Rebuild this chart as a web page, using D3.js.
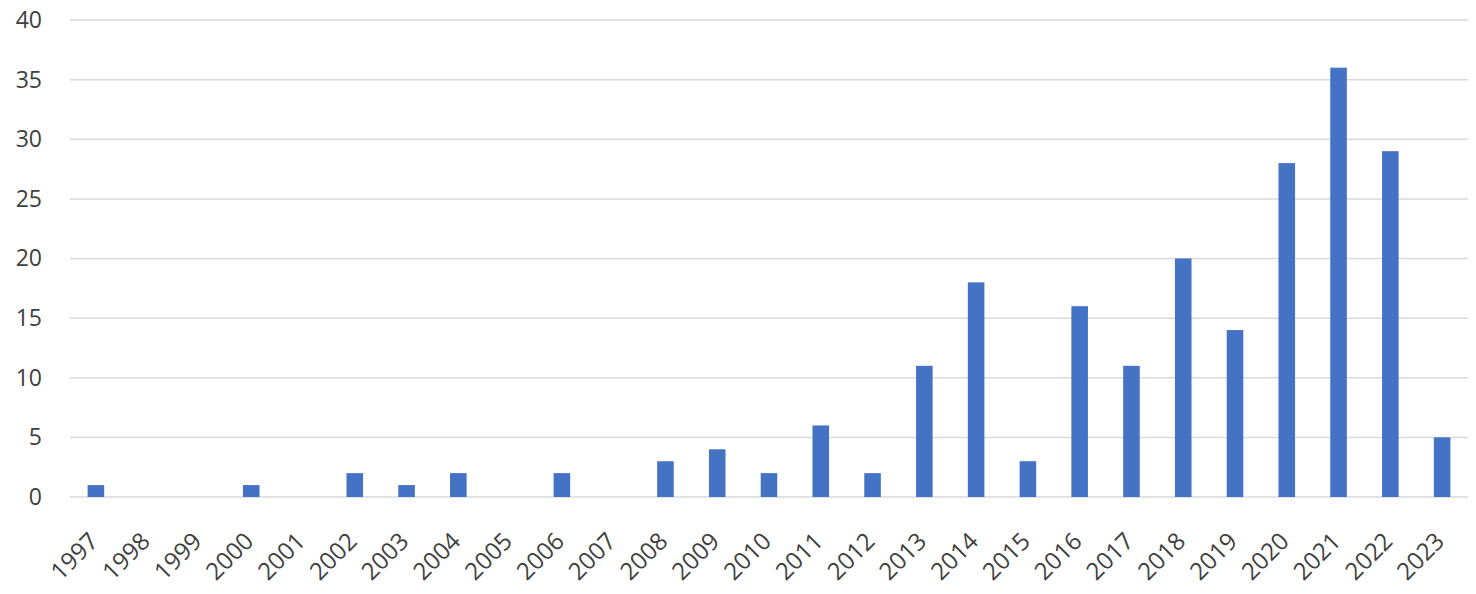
<!DOCTYPE html>
<html>
<head>
<meta charset="utf-8">
<script src="https://cdn.jsdelivr.net/npm/d3@7"></script>
<style>
  body { margin: 0; background: #fff; }
  svg { display: block; }
  text { font-family: "Open Sans", "Noto Sans", sans-serif; fill: #404040; }
</style>
</head>
<body>
<svg id="chart" width="1476" height="594"></svg>
<script>
const years = ["1997","1998","1999","2000","2001","2002","2003","2004","2005","2006","2007","2008","2009","2010","2011","2012","2013","2014","2015","2016","2017","2018","2019","2020","2021","2022","2023"];
const counts = [1,0,0,1,0,2,1,2,0,2,0,3,4,2,6,2,11,18,3,16,11,20,14,28,36,29,5];
const yTicks = [0,5,10,15,20,25,30,35,40];

const svg = d3.select("#chart");
const margin = {left: 70, right: 8, top: 20, bottom: 97};
const W = 1476, H = 594;

const x = d3.scaleBand().domain(years).range([margin.left, W - margin.right]).paddingInner(0.68).paddingOuter(0.34);
const y = d3.scaleLinear().domain([0, 40]).range([H - margin.bottom, margin.top]);

// gridlines
svg.append("g").selectAll("line").data(yTicks).join("line")
  .attr("x1", margin.left).attr("x2", W - margin.right)
  .attr("y1", d => y(d)).attr("y2", d => y(d))
  .attr("stroke", "#d9d9d9").attr("stroke-width", 1.5);

// y labels
const yAxis = svg.append("g").attr("transform", `translate(42,0)`)
  .call(d3.axisLeft(y).tickValues(yTicks).tickSize(0).tickPadding(0));
yAxis.select(".domain").remove();
yAxis.selectAll("text").attr("font-size", 23).attr("font-family", "Open Sans, sans-serif").attr("fill", "#404040");

// bars
svg.append("g").selectAll("rect").data(years.map((d,i)=>({year:d, v:counts[i]}))).join("rect")
  .attr("x", d => x(d.year))
  .attr("width", x.bandwidth())
  .attr("y", d => y(d.v))
  .attr("height", d => y(0) - y(d.v))
  .attr("fill", "#4472C4");

// x labels
const xAxis = svg.append("g").attr("transform", `translate(0,${y(0)})`)
  .call(d3.axisBottom(x).tickSize(0).tickPadding(0));
xAxis.select(".domain").remove();
xAxis.selectAll("text")
  .attr("font-size", 24).attr("font-family", "Open Sans, sans-serif").attr("fill", "#404040")
  .attr("text-anchor", "end")
  .attr("dy", null).attr("y", 0)
  .attr("transform", "translate(-11,31) rotate(-45)")
  .attr("dominant-baseline", "hanging");
</script>
</body>
</html>
